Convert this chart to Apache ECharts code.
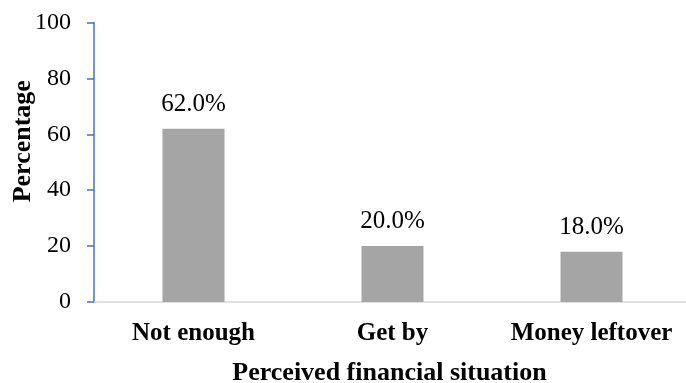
<!DOCTYPE html>
<html><head><meta charset="utf-8">
<script src="https://cdn.jsdelivr.net/npm/echarts@6/dist/echarts.min.js"></script>
<style>html,body{margin:0;padding:0;background:#fff}#c{width:686px;height:383px}</style>
</head><body><div id="c"></div>
<script>
const categories = ['Not enough', 'Get by', 'Money leftover'];
const values = [62.0, 20.0, 18.0];
const yTicks = [0, 20, 40, 60, 80, 100];
const font = '"Liberation Serif", "Times New Roman", serif';
const chart = echarts.init(document.getElementById('c'));
chart.setOption({
  animation: false,
  grid: {left: 94, right: -5, top: 22.5, bottom: 81, outerBoundsMode: 'none', containLabel: false},
  xAxis: {
    type: 'category', data: categories,
    axisLine: {lineStyle: {color: '#d9d9d9', width: 1.5}},
    axisTick: {show: false},
    axisLabel: {color: '#000', fontFamily: font, fontWeight: 'bold', fontSize: 25, margin: 19, interval: 0, hideOverlap: false},
    name: 'Perceived financial situation', nameLocation: 'middle', nameGap: 58, nameMoveOverlap: false,
    nameTextStyle: {color: '#000', fontFamily: font, fontWeight: 'bold', fontSize: 26, padding: [0, 0, 0, -6]}
  },
  yAxis: {
    type: 'value', min: yTicks[0], max: yTicks[yTicks.length - 1], interval: 20,
    axisLine: {show: true, lineStyle: {color: '#4472c4', width: 1.5}},
    axisTick: {show: true, length: 7, lineStyle: {color: '#4472c4', width: 1.5}},
    splitLine: {show: false},
    axisLabel: {color: '#000', fontFamily: font, fontSize: 24, margin: 23},
    name: 'Percentage', nameLocation: 'middle', nameGap: 58, nameMoveOverlap: false,
    nameTextStyle: {color: '#000', fontFamily: font, fontWeight: 'bold', fontSize: 26, padding: [0, 0, 0, 42]}
  },
  series: [{
    type: 'bar', data: values, barWidth: 62,
    itemStyle: {color: '#a5a5a5'},
    label: {show: true, position: 'top', distance: 12, color: '#000', fontFamily: font, fontSize: 25,
      formatter: p => p.value.toFixed(1) + '%'}
  }]
});
</script></body></html>
